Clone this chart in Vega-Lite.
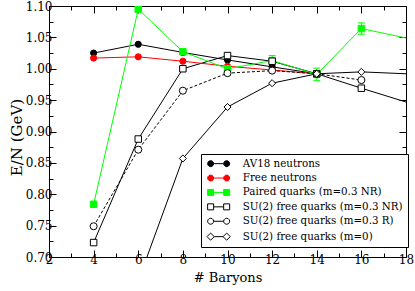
{
  "$schema": "https://vega.github.io/schema/vega-lite/v6.json",
  "width": 357,
  "height": 251,
  "autosize": "none",
  "padding": {"left": 49, "top": 6, "right": 9, "bottom": 34},
  "config": {
    "font": "DejaVu Serif",
    "view": {"stroke": "black", "strokeWidth": 1},
    "axis": {"domainColor": "black", "tickColor": "black", "labelColor": "black", "titleColor": "black", "grid": false, "labelFont": "DejaVu Serif", "titleFont": "DejaVu Serif", "labelFontSize": 12, "titleFontSize": 13, "titleFontWeight": "normal", "tickWidth": 1, "domainWidth": 1},
    "legend": {"labelFont": "DejaVu Serif", "strokeColor": "black", "fillColor": "white", "padding": 4.5}
  },
  "data": {"values": [
    {"series": "AV18 neutrons", "x": 4, "y": 1.025},
    {"series": "AV18 neutrons", "x": 6, "y": 1.039},
    {"series": "AV18 neutrons", "x": 8, "y": 1.026},
    {"series": "AV18 neutrons", "x": 10, "y": 1.014},
    {"series": "AV18 neutrons", "x": 12, "y": 1.003},
    {"series": "AV18 neutrons", "x": 14, "y": 0.992},
    {"series": "Free neutrons", "x": 4, "y": 1.017},
    {"series": "Free neutrons", "x": 6, "y": 1.019},
    {"series": "Free neutrons", "x": 8, "y": 1.012},
    {"series": "Free neutrons", "x": 10, "y": 1.004},
    {"series": "Free neutrons", "x": 12, "y": 0.998},
    {"series": "Free neutrons", "x": 14, "y": 0.992},
    {"series": "Paired quarks (m=0.3 NR)", "x": 4, "y": 0.784},
    {"series": "Paired quarks (m=0.3 NR)", "x": 6, "y": 1.095, "lo": 1.091, "hi": 1.099},
    {"series": "Paired quarks (m=0.3 NR)", "x": 8, "y": 1.027},
    {"series": "Paired quarks (m=0.3 NR)", "x": 10, "y": 1.0},
    {"series": "Paired quarks (m=0.3 NR)", "x": 12, "y": 1.013, "lo": 1.005, "hi": 1.021},
    {"series": "Paired quarks (m=0.3 NR)", "x": 14, "y": 0.991, "lo": 0.981, "hi": 1.001},
    {"series": "Paired quarks (m=0.3 NR)", "x": 16, "y": 1.064, "lo": 1.055, "hi": 1.073},
    {"series": "Paired quarks (m=0.3 NR)", "x": 20, "y": 1.034},
    {"series": "SU(2) free quarks (m=0.3 NR)", "x": 4, "y": 0.723},
    {"series": "SU(2) free quarks (m=0.3 NR)", "x": 6, "y": 0.888},
    {"series": "SU(2) free quarks (m=0.3 NR)", "x": 8, "y": 1.0},
    {"series": "SU(2) free quarks (m=0.3 NR)", "x": 10, "y": 1.021},
    {"series": "SU(2) free quarks (m=0.3 NR)", "x": 12, "y": 1.012},
    {"series": "SU(2) free quarks (m=0.3 NR)", "x": 14, "y": 0.992},
    {"series": "SU(2) free quarks (m=0.3 NR)", "x": 16, "y": 0.969},
    {"series": "SU(2) free quarks (m=0.3 NR)", "x": 20, "y": 0.925},
    {"series": "SU(2) free quarks (m=0.3 R)", "x": 4, "y": 0.749},
    {"series": "SU(2) free quarks (m=0.3 R)", "x": 6, "y": 0.871},
    {"series": "SU(2) free quarks (m=0.3 R)", "x": 8, "y": 0.965},
    {"series": "SU(2) free quarks (m=0.3 R)", "x": 10, "y": 0.993},
    {"series": "SU(2) free quarks (m=0.3 R)", "x": 12, "y": 0.997},
    {"series": "SU(2) free quarks (m=0.3 R)", "x": 14, "y": 0.992},
    {"series": "SU(2) free quarks (m=0.3 R)", "x": 16, "y": 0.982},
    {"series": "SU(2) free quarks (m=0)", "x": 6, "y": 0.662},
    {"series": "SU(2) free quarks (m=0)", "x": 8, "y": 0.857},
    {"series": "SU(2) free quarks (m=0)", "x": 10, "y": 0.939},
    {"series": "SU(2) free quarks (m=0)", "x": 12, "y": 0.977},
    {"series": "SU(2) free quarks (m=0)", "x": 14, "y": 0.992},
    {"series": "SU(2) free quarks (m=0)", "x": 16, "y": 0.995},
    {"series": "SU(2) free quarks (m=0)", "x": 20, "y": 0.989}
  ]},
  "layer": [
    {
      "transform": [{"filter": "indexof(['AV18 neutrons', 'SU(2) free quarks (m=0.3 NR)', 'SU(2) free quarks (m=0)'], datum.series) >= 0"}],
      "mark": {"type": "line", "clip": true, "strokeWidth": 1, "color": "black"},
      "encoding": {
        "x": {"field": "x", "type": "quantitative", "scale": {"domain": [2, 18], "nice": false, "zero": false},
          "axis": {"title": "# Baryons", "values": [2,3,4,5,6,7,8,9,10,11,12,13,14,15,16,17,18], "labelExpr": "datum.value % 2 === 0 ? datum.label : ''", "labelOverlap": false, "labelFlush": false, "tickSize": {"condition": {"test": "datum.value % 2 === 0", "value": -7}, "value": -4}, "labelPadding": 4, "titlePadding": 3}},
        "y": {"field": "y", "type": "quantitative", "scale": {"domain": [0.7, 1.1], "nice": false, "zero": false},
          "axis": {"title": "E/N (GeV)", "titleFontSize": 15, "titleY": 131, "values": [0.7,0.725,0.75,0.775,0.8,0.825,0.85,0.875,0.9,0.925,0.95,0.975,1.0,1.025,1.05,1.075,1.1], "labelExpr": "round(datum.value*40) % 2 === 0 ? format(datum.value, '.2f') : ''", "labelOverlap": false, "labelFlush": false, "tickSize": {"condition": {"test": "round(datum.value*40) % 2 === 0", "value": -7}, "value": -4}, "labelPadding": 4, "titlePadding": 1}},
        "detail": {"field": "series", "type": "nominal"}
      }
    },
    {
      "transform": [{"filter": "datum.series === 'Free neutrons'"}],
      "mark": {"type": "line", "clip": true, "strokeWidth": 1, "color": "red"},
      "encoding": {"x": {"field": "x", "type": "quantitative", "axis": null}, "y": {"field": "y", "type": "quantitative", "axis": null}}
    },
    {
      "transform": [{"filter": "datum.series === 'SU(2) free quarks (m=0.3 R)'"}],
      "mark": {"type": "line", "clip": true, "strokeWidth": 1, "color": "black", "strokeDash": [3, 2]},
      "encoding": {"x": {"field": "x", "type": "quantitative", "axis": null}, "y": {"field": "y", "type": "quantitative", "axis": null}}
    },
    {
      "transform": [{"filter": "datum.series === 'Paired quarks (m=0.3 NR)'"}],
      "mark": {"type": "line", "clip": true, "strokeWidth": 1, "color": "#00ff00"},
      "encoding": {"x": {"field": "x", "type": "quantitative", "axis": null}, "y": {"field": "y", "type": "quantitative", "axis": null}}
    },
    {
      "transform": [{"filter": "isValid(datum.lo)"}],
      "mark": {"type": "rule", "color": "#00ff00", "strokeWidth": 1, "clip": true},
      "encoding": {
        "x": {"field": "x", "type": "quantitative", "axis": null},
        "y": {"field": "lo", "type": "quantitative", "axis": null},
        "y2": {"field": "hi"}
      }
    },
    {
      "transform": [{"filter": "isValid(datum.lo)"}, {"fold": ["lo", "hi"], "as": ["bound", "bv"]}],
      "mark": {"type": "tick", "orient": "horizontal", "color": "#00ff00", "size": 7, "thickness": 1, "clip": true, "opacity": 1},
      "encoding": {
        "x": {"field": "x", "type": "quantitative", "axis": null},
        "y": {"field": "bv", "type": "quantitative", "axis": null}
      }
    },
    {
      "transform": [{"filter": "datum.series === 'AV18 neutrons'"}],
      "mark": {"type": "point", "shape": "circle", "filled": true, "clip": true, "fill": "black", "stroke": "black", "strokeWidth": 1, "opacity": 1, "size": 38},
      "encoding": {"x": {"field": "x", "type": "quantitative", "axis": null}, "y": {"field": "y", "type": "quantitative", "axis": null}}
    },
    {
      "transform": [{"filter": "datum.series === 'Free neutrons'"}],
      "mark": {"type": "point", "shape": "circle", "filled": true, "clip": true, "fill": "red", "stroke": "red", "strokeWidth": 1, "opacity": 1, "size": 38},
      "encoding": {"x": {"field": "x", "type": "quantitative", "axis": null}, "y": {"field": "y", "type": "quantitative", "axis": null}}
    },
    {
      "transform": [{"filter": "datum.series === 'Paired quarks (m=0.3 NR)'"}],
      "mark": {"type": "point", "shape": "square", "filled": true, "clip": true, "fill": "#00ff00", "stroke": "#00ff00", "strokeWidth": 1, "opacity": 1, "size": 42},
      "encoding": {"x": {"field": "x", "type": "quantitative", "axis": null}, "y": {"field": "y", "type": "quantitative", "axis": null}}
    },
    {
      "transform": [{"filter": "datum.series === 'SU(2) free quarks (m=0.3 NR)'"}],
      "mark": {"type": "point", "shape": "square", "filled": true, "clip": true, "fill": "white", "stroke": "black", "strokeWidth": 1, "opacity": 1, "size": 42},
      "encoding": {"x": {"field": "x", "type": "quantitative", "axis": null}, "y": {"field": "y", "type": "quantitative", "axis": null}}
    },
    {
      "transform": [{"filter": "datum.series === 'SU(2) free quarks (m=0.3 R)'"}],
      "mark": {"type": "point", "shape": "circle", "filled": true, "clip": true, "fill": "white", "stroke": "black", "strokeWidth": 1, "opacity": 1, "size": 50},
      "encoding": {"x": {"field": "x", "type": "quantitative", "axis": null}, "y": {"field": "y", "type": "quantitative", "axis": null}}
    },
    {
      "transform": [{"filter": "datum.series === 'SU(2) free quarks (m=0)'"}],
      "mark": {"type": "point", "shape": "diamond", "filled": true, "clip": true, "fill": "white", "stroke": "black", "strokeWidth": 1, "opacity": 1, "size": 50},
      "encoding": {"x": {"field": "x", "type": "quantitative", "axis": null}, "y": {"field": "y", "type": "quantitative", "axis": null}}
    },
    {
      "transform": [{"filter": "datum.x > 18"}],
      "mark": {"type": "point", "filled": true, "opacity": 1, "clip": true, "strokeWidth": 1},
      "encoding": {
        "x": {"field": "x", "type": "quantitative",
          "axis": {"orient": "top", "title": null, "labels": false, "domain": false, "values": [2,3,4,5,6,7,8,9,10,11,12,13,14,15,16,17,18], "tickSize": {"condition": {"test": "datum.value % 2 === 0", "value": -7}, "value": -4}}},
        "y": {"field": "y", "type": "quantitative",
          "axis": {"orient": "right", "title": null, "labels": false, "domain": false, "values": [0.7,0.725,0.75,0.775,0.8,0.825,0.85,0.875,0.9,0.925,0.95,0.975,1.0,1.025,1.05,1.075,1.1], "tickSize": {"condition": {"test": "round(datum.value*40) % 2 === 0", "value": -7}, "value": -4}}},
        "fill": {"field": "series", "type": "nominal",
          "scale": {"domain": ["AV18 neutrons", "Free neutrons", "Paired quarks (m=0.3 NR)", "SU(2) free quarks (m=0.3 NR)", "SU(2) free quarks (m=0.3 R)", "SU(2) free quarks (m=0)"], "range": ["black", "red", "#00ff00", "white", "white", "white"]},
          "legend": {"title": null, "orient": "none", "legendX": 152, "legendY": 148, "direction": "vertical",
            "labelFont": "DejaVu Serif", "labelFontSize": 10.3, "labelColor": "black", "labelLimit": 0,
            "padding": 4.5, "rowPadding": 3.4, "strokeColor": "black", "fillColor": "white",
            "symbolSize": 36, "symbolStrokeWidth": 1, "symbolOpacity": 1, "symbolOffset": 8, "labelOffset": 19,
            "encode": {"legend": {"update": {"stroke": {"value": "black"}, "strokeWidth": {"value": 1}, "fill": {"value": "white"}}}}}},
        "shape": {"field": "series", "type": "nominal",
          "scale": {"domain": ["AV18 neutrons", "Free neutrons", "Paired quarks (m=0.3 NR)", "SU(2) free quarks (m=0.3 NR)", "SU(2) free quarks (m=0.3 R)", "SU(2) free quarks (m=0)"],
            "range": ["M-1.67,0L-1.8,0.5L-2.17,0.87L-2.67,1L-3.17,0.87L-3.54,0.5L-3.67,0L-3.54,-0.5L-3.17,-0.87L-2.67,-1L-2.17,-0.87L-1.8,-0.5ZM3.67,0L3.54,0.5L3.17,0.87L2.67,1L2.17,0.87L1.8,0.5L1.67,0L1.8,-0.5L2.17,-0.87L2.67,-1L3.17,-0.87L3.54,-0.5ZM-1.67,0L1.67,0", "M-1.67,0L-1.8,0.5L-2.17,0.87L-2.67,1L-3.17,0.87L-3.54,0.5L-3.67,0L-3.54,-0.5L-3.17,-0.87L-2.67,-1L-2.17,-0.87L-1.8,-0.5ZM3.67,0L3.54,0.5L3.17,0.87L2.67,1L2.17,0.87L1.8,0.5L1.67,0L1.8,-0.5L2.17,-0.87L2.67,-1L3.17,-0.87L3.54,-0.5ZM-1.67,0L1.67,0", "M-3.67,-1L-1.67,-1L-1.67,1L-3.67,1ZM1.67,-1L3.67,-1L3.67,1L1.67,1ZM-1.67,0L1.67,0", "M-3.67,-1L-1.67,-1L-1.67,1L-3.67,1ZM1.67,-1L3.67,-1L3.67,1L1.67,1ZM-1.67,0L1.67,0", "M-1.67,0L-1.8,0.5L-2.17,0.87L-2.67,1L-3.17,0.87L-3.54,0.5L-3.67,0L-3.54,-0.5L-3.17,-0.87L-2.67,-1L-2.17,-0.87L-1.8,-0.5ZM3.67,0L3.54,0.5L3.17,0.87L2.67,1L2.17,0.87L1.8,0.5L1.67,0L1.8,-0.5L2.17,-0.87L2.67,-1L3.17,-0.87L3.54,-0.5ZM-1.67,0L1.67,0", "M-3.87,0L-2.67,-1.2L-1.47,0L-2.67,1.2ZM1.47,0L2.67,-1.2L3.87,0L2.67,1.2ZM-1.47,0L1.47,0"]}},
        "stroke": {"field": "series", "type": "nominal",
          "scale": {"domain": ["AV18 neutrons", "Free neutrons", "Paired quarks (m=0.3 NR)", "SU(2) free quarks (m=0.3 NR)", "SU(2) free quarks (m=0.3 R)", "SU(2) free quarks (m=0)"], "range": ["black", "red", "#00ff00", "black", "black", "black"]}}
      }
    }
  ],
  "resolve": {"axis": {"x": "independent", "y": "independent"}}
}
